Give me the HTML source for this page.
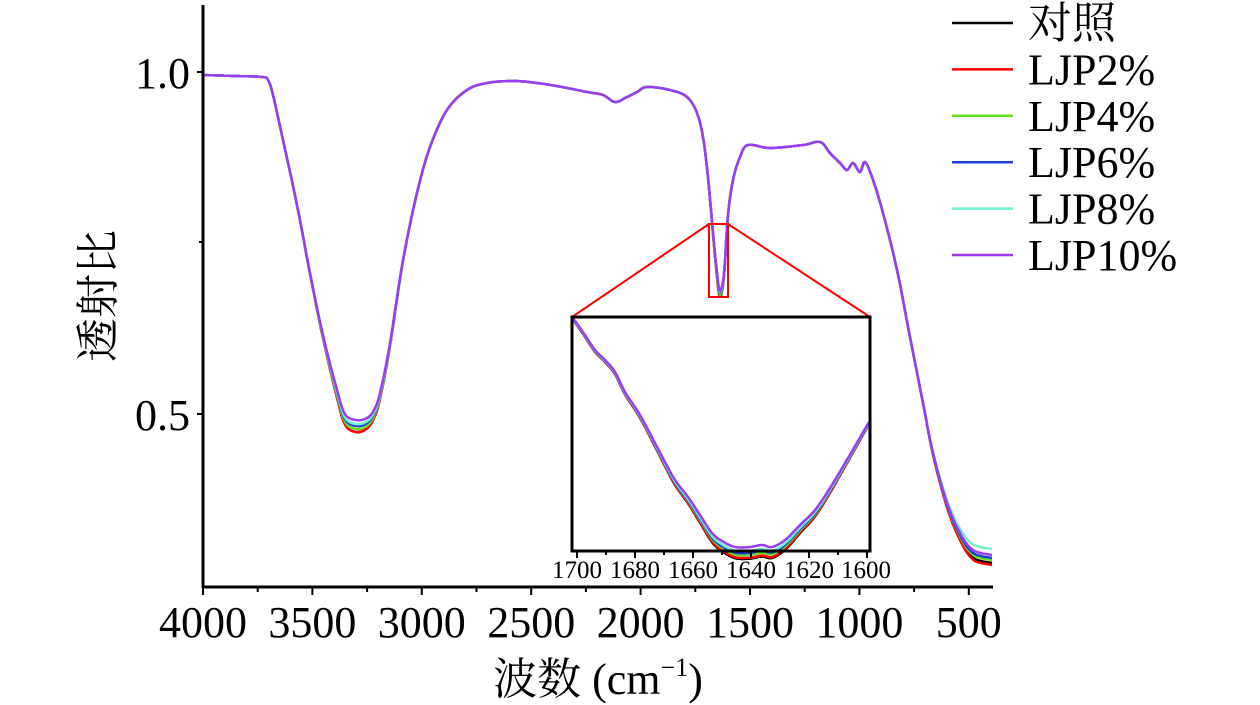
<!DOCTYPE html>
<html><head><meta charset="utf-8"><style>
html,body{margin:0;padding:0;background:#fff;}
svg{display:block;}
text{font-family:"Liberation Serif","Noto Serif CJK SC",serif;fill:#000;}
</style></head><body>
<svg id="s" width="1260" height="705" xmlns="http://www.w3.org/2000/svg">
<g id="curves"></g>
<g id="inset"></g>
<line x1="203" y1="5" x2="203" y2="588" stroke="#000" stroke-width="3"/>
<line x1="202" y1="587" x2="993" y2="587" stroke="#000" stroke-width="3"/>
<g stroke="#000" stroke-width="2">
<line x1="197" y1="72" x2="203" y2="72"/><line x1="199" y1="242" x2="203" y2="242"/><line x1="197" y1="414" x2="203" y2="414"/>
</g>
<g id="xt" stroke="#000" stroke-width="2"></g>
<g font-size="44">
<text x="190" y="88" text-anchor="end">1.0</text>
<text x="190" y="430" text-anchor="end">0.5</text>
</g>
<g id="xl" font-size="44" text-anchor="middle"></g>
<text x="598" y="694" font-size="44" text-anchor="middle">波数 (cm<tspan font-size="26" dy="-18">−1</tspan><tspan dy="18">)</tspan></text>
<text transform="translate(113,296) rotate(-90)" font-size="44" text-anchor="middle">透射比</text>
<rect x="709" y="224" width="19" height="73" fill="none" stroke="#f00" stroke-width="2"/>
<line x1="709" y1="224" x2="572" y2="317" stroke="#f00" stroke-width="2"/>
<line x1="728" y1="224" x2="870" y2="317" stroke="#f00" stroke-width="2"/>
<rect x="572" y="317" width="298" height="234" fill="none" stroke="#000" stroke-width="3"/>
<g id="it" stroke="#000" stroke-width="2"></g>
<g font-size="25" text-anchor="middle">
<text x="577" y="578">1700</text><text x="635" y="578">1680</text><text x="693" y="578">1660</text><text x="751" y="578">1640</text><text x="809" y="578">1620</text><text x="866" y="578">1600</text>
</g>
<g id="leg" font-size="44"></g>
</svg>
<script>
var cols=["#000000","#ff0000","#66e01a","#1f3fe0","#6ff0d0","#9b3cf0"];
var names=["对照","LJP2%","LJP4%","LJP6%","LJP8%","LJP10%"];
var base=[[203,75],[235,76],[262,77],[268,80],[273,95],[283,140],[297,205],[310,273],[323,335],[337,390],[345,414],[356,420],[367,418],[374,410],[380,393],[390,343],[403,260],[417,193],[430,147],[447,110],[467,90],[487,83],[513,81],[537,83],[562,87],[587,92],[603,95],[615,102],[627,97],[637,92],[647,87],[670,90],[687,97],[697,113],[703,137],[708,177],[713,233],[717,273],[720,291],[724,273],[728,215],[733,180],[740,157],[748,145],[770,148],[803,145],[820,142],[830,153],[840,163],[847,170],[853,163],[860,172],[865,162],[873,180],[883,213],[897,270],[910,337],[923,403],[933,453],[947,503],[960,533],[973,550],[992,555]];
function off(x,i){var o=0;var g=Math.exp(-Math.pow((x-356)/28,2));o+=g*[12,12,9,6,4,0][i];
 if(x>925){var t=Math.min(1,(x-925)/50);o+=t*[8,10,5,3,-6,0][i];}
 var g2=Math.exp(-Math.pow((x-720)/5,2));o+=g2*[6,5,4,2,1,0][i];return o;}
function cr(p0,p1,p2,p3,t){var t2=t*t,t3=t2*t;return 0.5*((2*p1)+(-p0+p2)*t+(2*p0-5*p1+4*p2-p3)*t2+(-p0+3*p1-3*p2+p3)*t3);}
function interp(pts,i,fo){var d="";var n=pts.length;for(var k=0;k<n-1;k++){var a=pts[Math.max(0,k-1)],b=pts[k],c=pts[k+1],e=pts[Math.min(n-1,k+2)];var steps=Math.max(2,Math.round(c[0]-b[0]));for(var s=0;s<steps;s++){var t=s/steps;var x=cr(a[0],b[0],c[0],e[0],t),y=cr(a[1],b[1],c[1],e[1],t)+fo(x,i);d+=(d?"L":"M")+x.toFixed(1)+","+y.toFixed(1);}}var l=pts[n-1];d+="L"+l[0]+","+(l[1]+fo(l[0],i)).toFixed(1);return d;}
var ns="http://www.w3.org/2000/svg";
function el(p,tag,at){var e=document.createElementNS(ns,tag);for(var k in at)e.setAttribute(k,at[k]);p.appendChild(e);return e;}
var cg=document.getElementById("curves");
for(var i=0;i<6;i++)el(cg,"path",{d:interp(base,i,off),fill:"none",stroke:cols[i],"stroke-width":2.5,"stroke-linejoin":"round"});
var ib=[[573,318],[585,335],[595,350],[605,360],[615,372],[625,392],[640,415],[655,443],[665,462],[675,480],[688,497],[700,515],[712,533],[722,541],[735,547],[750,547],[762,545],[772,547],[785,540],[800,525],[815,510],[830,488],[848,458],[869,422]];
function ioff(x,i){var g=Math.exp(-Math.pow((x-755)/70,2));var a=[9,8,6,4,3,0][i];var e=(x-573)/296;return g*a+[3,3,2,2,1,0][i]*(1-Math.abs(0.5-e));}
var ig=document.getElementById("inset");
for(var i=0;i<6;i++)el(ig,"path",{d:interp(ib,i,ioff),fill:"none",stroke:cols[i],"stroke-width":2.5});
var xt=document.getElementById("xt"),xl=document.getElementById("xl");
var lab=["4000","3500","3000","2500","2000","1500","1000","500"];
for(var k=0;k<8;k++){var x=203+k*109.4;el(xt,"line",{x1:x,y1:587,x2:x,y2:595});el(xl,"text",{x:x,y:637}).textContent=lab[k];if(k<7)el(xt,"line",{x1:x+54.7,y1:587,x2:x+54.7,y2:592});}
var it=document.getElementById("it");
for(var k=0;k<=10;k++){var x=577+k*29;el(it,"line",{x1:x,y1:551,x2:x,y2:k%2?555:558});}
var lg=document.getElementById("leg");
for(var i=0;i<6;i++){var y=23+i*46.4;el(lg,"line",{x1:952,y1:y,x2:1013,y2:y,stroke:cols[i],"stroke-width":2.5});var t=el(lg,"text",{x:1028,y:y+15});t.textContent=names[i];}
</script>
</body></html>
